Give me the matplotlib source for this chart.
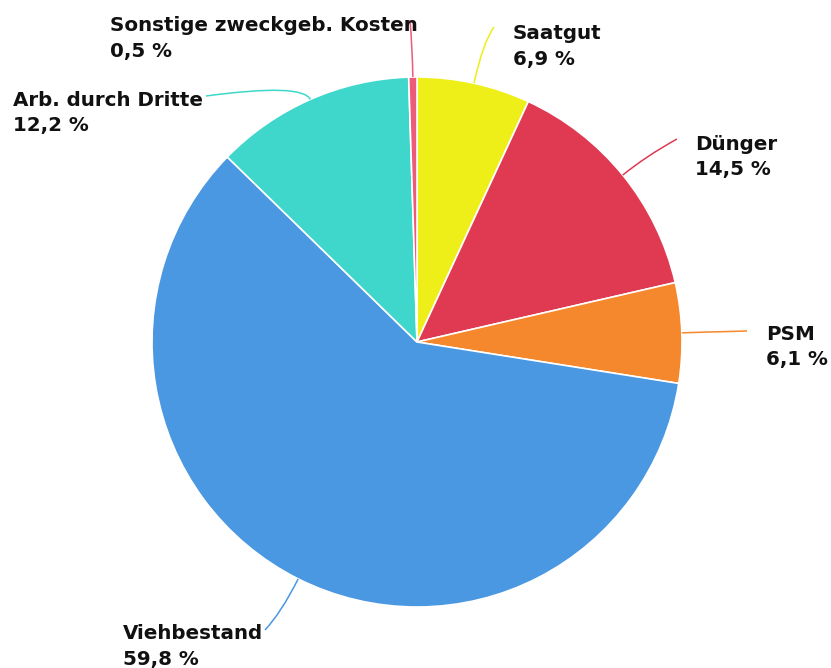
import numpy as np
import matplotlib
matplotlib.use("Agg")
from matplotlib import pyplot as plt
from matplotlib.path import Path
from matplotlib.patches import PathPatch

W, H = 831, 668

labels = ["Saatgut", "Dünger", "PSM", "Viehbestand", "Arb. durch Dritte",
          "Sonstige zweckgeb. Kosten"]
shares = [6.9, 14.5, 6.1, 59.8, 12.2, 0.5]
colors = ["#eeee18", "#e03a52", "#f5872c", "#4a97e2", "#3fd7cb", "#ec5b78"]

# label placement in pixel coords (x left, baseline of first line) and leader end
label_xy = [(513, 39), (695, 150), (766, 340), (123, 639), (13, 106), (110, 31)]
leader_end = [(494, 27), (677, 139), (747, 331), (265, 630), (206, 96), (410, 20)]
leader_bend = [42, 30, 20, 38, 18, 30]

cx, cy, R = 417, 342, 265

plt.rcParams["font.family"] = ["DejaVu Sans"]


def fy(y):
    # pixel row -> data y (axis runs bottom-up)
    return H - y


fig = plt.figure(figsize=(W / 100, H / 100), dpi=100)
ax = fig.add_axes([0, 0, 1, 1])

ax.pie(shares, colors=colors, startangle=90, counterclock=False,
       center=(cx, fy(cy)), radius=R, frame=True,
       wedgeprops=dict(edgecolor="white", linewidth=1.2))
ax.set_xlim(0, W)
ax.set_ylim(0, H)
ax.set_aspect("equal")
ax.axis("off")

cum = np.cumsum([0] + shares[:-1])
for i, (name, v) in enumerate(zip(labels, shares)):
    mid = np.deg2rad((cum[i] + v / 2) / 100 * 360)
    dx, dy = np.sin(mid), np.cos(mid)
    p0 = (cx + R * dx, fy(cy - R * dy))
    ctrl = (cx + (R + leader_bend[i]) * dx, fy(cy - (R + leader_bend[i]) * dy))
    ex, ey = leader_end[i]
    path = Path([p0, ctrl, (ex, fy(ey))], [Path.MOVETO, Path.CURVE3, Path.CURVE3])
    ax.add_patch(PathPatch(path, fc="none", ec=colors[i], lw=1.1))

    tx, ty = label_xy[i]
    ax.text(tx, fy(ty), name, fontsize=14.3, fontweight="bold", color="#111111",
            ha="left", va="baseline")
    ax.text(tx, fy(ty + 25.5), f"{v:.1f} %".replace(".", ","), fontsize=14.3,
            fontweight="bold", color="#111111", ha="left", va="baseline")

fig.savefig("out.png", dpi=100)
